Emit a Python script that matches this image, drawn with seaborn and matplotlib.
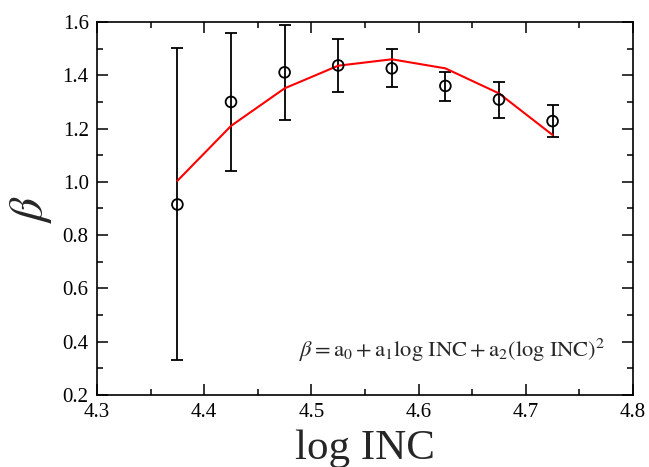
import numpy as np
import pandas as pd
import matplotlib
matplotlib.use("Agg")
import matplotlib.pyplot as plt
from matplotlib.ticker import MultipleLocator
import seaborn as sns

log_inc = [4.375, 4.425, 4.475, 4.525, 4.575, 4.625, 4.675, 4.725]
beta = [0.915, 1.300, 1.411, 1.437, 1.426, 1.360, 1.309, 1.228]
err_low = [0.330, 1.042, 1.232, 1.336, 1.355, 1.305, 1.241, 1.167]
err_high = [1.502, 1.559, 1.590, 1.537, 1.497, 1.413, 1.374, 1.290]
fit = [1.004, 1.210, 1.351, 1.436, 1.460, 1.426, 1.332, 1.176]

df = pd.DataFrame({"x": log_inc, "beta": beta, "lo": err_low, "hi": err_high, "fit": fit})

sns.set_style("ticks")
plt.rcParams["font.family"] = ["Liberation Serif", "DejaVu Serif"]
plt.rcParams["mathtext.fontset"] = "stix"

fig = plt.figure(figsize=(6.49, 4.67), dpi=100)
ax = fig.add_axes([0.1495, 0.1542, 0.9753 - 0.1495, 0.9529 - 0.1542])

sns.lineplot(data=df, x="x", y="fit", ax=ax, color="#ff0000", lw=1.5, zorder=3)
yerr = np.vstack([df["beta"] - df["lo"], df["hi"] - df["beta"]])
ax.errorbar(df["x"], df["beta"], yerr=yerr, fmt="none", ecolor="black",
            elinewidth=1.3, capsize=4, capthick=1.3, zorder=2)
sns.scatterplot(data=df, x="x", y="beta", ax=ax, marker="o", s=60,
                facecolor="none", edgecolor="black", linewidth=1.3, zorder=4)

ax.set_xlim(4.3, 4.8)
ax.set_ylim(0.2, 1.6)
ax.xaxis.set_major_locator(MultipleLocator(0.1))
ax.xaxis.set_minor_locator(MultipleLocator(0.05))
ax.yaxis.set_major_locator(MultipleLocator(0.2))
ax.yaxis.set_minor_locator(MultipleLocator(0.1))
ax.xaxis.set_major_formatter(matplotlib.ticker.FormatStrFormatter("%.1f"))
ax.yaxis.set_major_formatter(matplotlib.ticker.FormatStrFormatter("%.1f"))
ax.tick_params(which="both", direction="in", top=True, right=True, width=1.1,
               labelsize=15, colors="black")
ax.tick_params(which="major", length=8, pad=6)
ax.tick_params(which="minor", length=4)
for s in ax.spines.values():
    s.set_linewidth(1.2)
    s.set_color("black")

ax.set_xlabel("log INC", fontsize=31, labelpad=5)
ax.set_ylabel(r"$\beta$", fontsize=34, labelpad=6)

ax.text(0.948, 0.102,
        r"$\beta = \mathrm{a}_0 + \mathrm{a}_1\mathrm{log\ INC} + \mathrm{a}_2(\mathrm{log\ INC})^2$",
        transform=ax.transAxes, ha="right", va="baseline", fontsize=16.2)

fig.savefig("out.png", dpi=100)
